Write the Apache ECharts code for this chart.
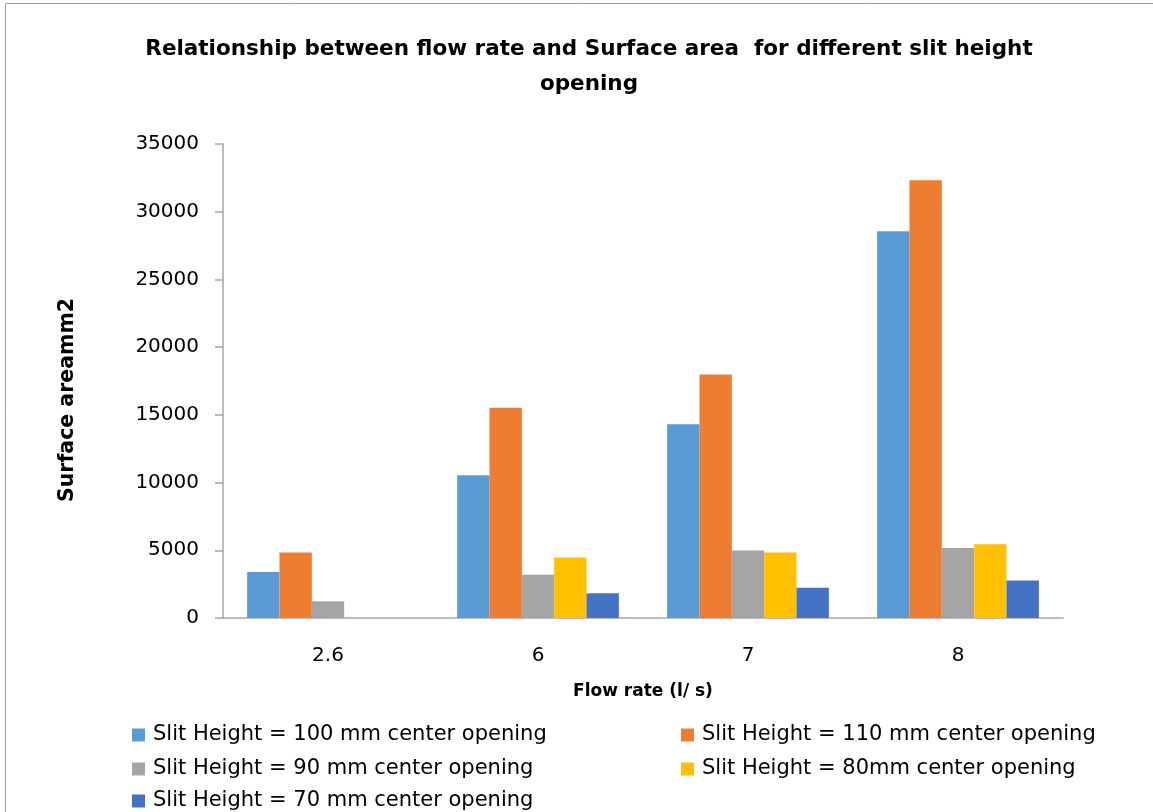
<!DOCTYPE html>
<html>
<head>
<meta charset="utf-8">
<script src="https://cdn.jsdelivr.net/npm/echarts@6/dist/echarts.min.js"></script>
<style>
html,body{margin:0;padding:0;background:#fff;}
#chart{width:1153px;height:812px;}
</style>
</head>
<body>
<div id="chart"></div>
<script>
const categories = ['2.6', '6', '7', '8'];
const seriesNames = [
  'Slit Height = 100 mm center opening',
  'Slit Height = 110 mm center opening',
  'Slit Height = 90 mm center opening',
  'Slit Height = 80mm center opening',
  'Slit Height = 70 mm center opening'
];
const slit100 = [3400, 10540, 14310, 28550];
const slit110 = [4830, 15520, 17980, 32320];
const slit90 = [1230, 3200, 4980, 5170];
const slit80 = [null, 4460, 4830, 5440];
const slit70 = [null, 1820, 2240, 2760];
const yTicks = { min: 0, max: 35000, interval: 5000 };
const colors = ['#5B9BD5', '#ED7D31', '#A5A5A5', '#FFC000', '#4472C4'];

const values = [slit100, slit110, slit90, slit80, slit70];
const FONT = 'DejaVu Sans';

// legend slot positions (column x, row y) for each series
const legendPos = [[132, 724], [681, 724], [132, 758], [681, 758], [132, 790]];

const chart = echarts.init(document.getElementById('chart'), null, { renderer: 'canvas' });
chart.setOption({
  animation: false,
  backgroundColor: '#fff',
  color: colors,
  graphic: [{
    type: 'rect', left: 3, top: 1,
    shape: { width: 1170, height: 830 },
    style: { fill: 'none', stroke: '#A0A0A0', lineWidth: 1 },
    silent: true, z: -1
  }],
  title: {
    text: 'Relationship between flow rate and Surface area  for different slit height\nopening',
    left: 584, top: 27, textAlign: 'center',
    textStyle: { fontFamily: FONT, fontWeight: 'bold', fontSize: 21.5, lineHeight: 35, color: '#000' }
  },
  legend: seriesNames.map((n, i) => ({
    left: legendPos[i][0], top: legendPos[i][1],
    itemWidth: 13, itemHeight: 13, padding: 0,
    icon: 'rect',
    data: [n],
    textStyle: { fontFamily: FONT, fontSize: 21, lineHeight: 22, color: '#000', padding: [0, 0, 0, 3] }
  })),
  grid: { left: 223, right: 90, top: 144, bottom: 194, containLabel: false },
  xAxis: {
    type: 'category',
    data: categories,
    name: 'Flow rate (l/ s)',
    nameLocation: 'middle',
    nameGap: 65,
    nameTextStyle: { fontFamily: FONT, fontWeight: 'bold', fontSize: 17, color: '#000' },
    axisLine: { lineStyle: { color: '#A6A6A6', width: 1.5 } },
    axisTick: { show: false },
    axisLabel: { fontFamily: FONT, fontSize: 20, color: '#000', margin: 28 },
    splitLine: { show: false }
  },
  yAxis: {
    type: 'value',
    min: yTicks.min, max: yTicks.max, interval: yTicks.interval,
    name: 'Surface areamm2',
    nameLocation: 'middle',
    nameGap: 145,
    nameTextStyle: { fontFamily: FONT, fontWeight: 'bold', fontSize: 20.5, color: '#000', padding: [0, 38, 0, 0] },
    axisLine: { show: true, lineStyle: { color: '#A6A6A6', width: 1.5 } },
    axisTick: { show: true, length: 8, lineStyle: { color: '#A6A6A6', width: 1.5 } },
    axisLabel: { fontFamily: FONT, fontSize: 20, color: '#000', margin: 24, formatter: v => String(v) },
    splitLine: { show: false }
  },
  series: values.map((v, i) => ({
    name: seriesNames[i],
    type: 'bar',
    data: v,
    barGap: '0%',
    barCategoryGap: '23%',
    itemStyle: { color: colors[i] }
  }))
});
</script>
</body>
</html>
